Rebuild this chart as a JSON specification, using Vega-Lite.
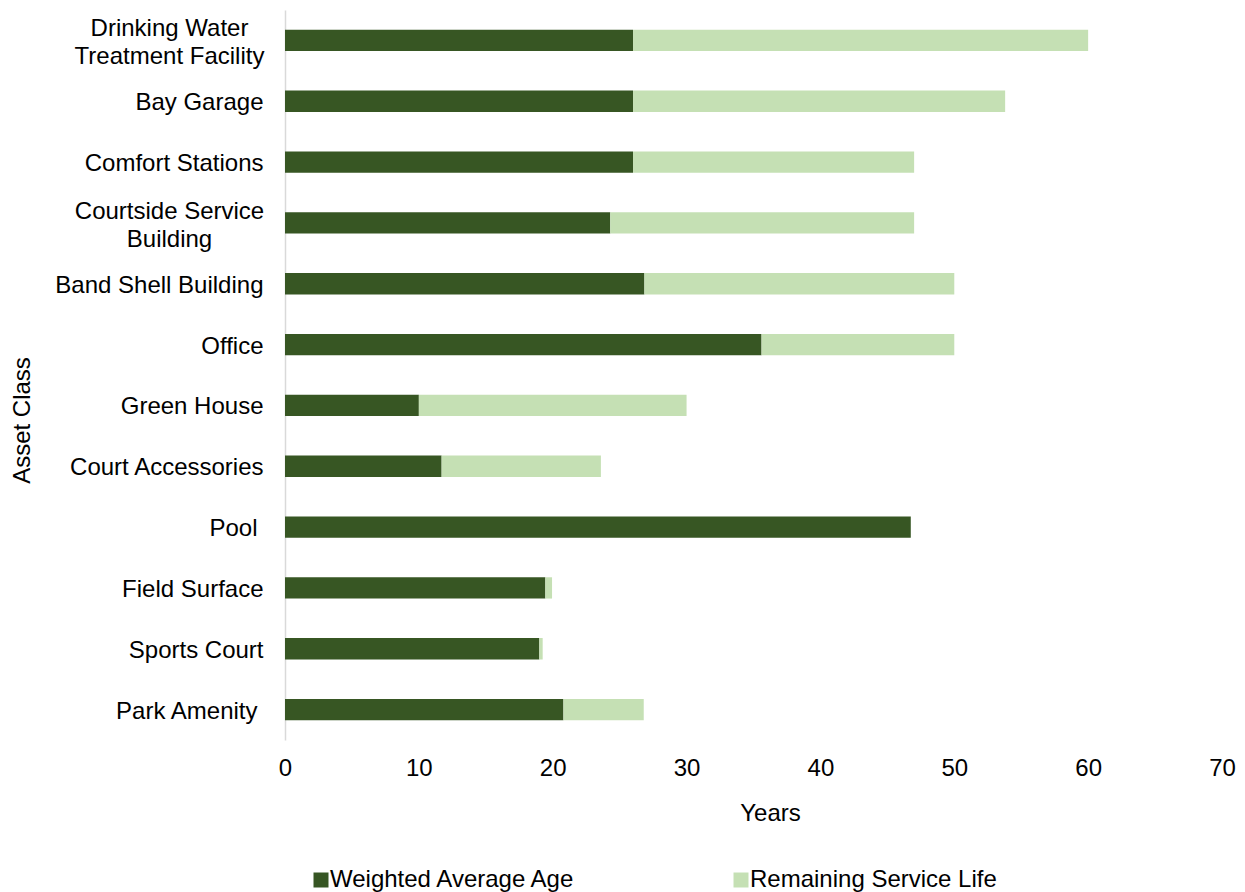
{
  "$schema": "https://vega.github.io/schema/vega-lite/v6.json",
  "width": 937,
  "height": 730,
  "autosize": {"type": "none"},
  "padding": {"left": 285, "top": 10, "right": 23, "bottom": 152},
  "background": "white",
  "config": {
    "font": "Liberation Sans",
    "view": {"stroke": null}
  },
  "data": {
    "values": [
      {"asset": "Drinking Water|Treatment Facility", "series": "Weighted Average Age", "years": 26, "ord": 1},
      {"asset": "Drinking Water|Treatment Facility", "series": "Remaining Service Life", "years": 34, "ord": 2},
      {"asset": "Bay Garage", "series": "Weighted Average Age", "years": 26, "ord": 1},
      {"asset": "Bay Garage", "series": "Remaining Service Life", "years": 27.8, "ord": 2},
      {"asset": "Comfort Stations", "series": "Weighted Average Age", "years": 26, "ord": 1},
      {"asset": "Comfort Stations", "series": "Remaining Service Life", "years": 21, "ord": 2},
      {"asset": "Courtside Service|Building", "series": "Weighted Average Age", "years": 24.3, "ord": 1},
      {"asset": "Courtside Service|Building", "series": "Remaining Service Life", "years": 22.7, "ord": 2},
      {"asset": "Band Shell Building", "series": "Weighted Average Age", "years": 26.85, "ord": 1},
      {"asset": "Band Shell Building", "series": "Remaining Service Life", "years": 23.15, "ord": 2},
      {"asset": "Office", "series": "Weighted Average Age", "years": 35.6, "ord": 1},
      {"asset": "Office", "series": "Remaining Service Life", "years": 14.4, "ord": 2},
      {"asset": "Green House", "series": "Weighted Average Age", "years": 10, "ord": 1},
      {"asset": "Green House", "series": "Remaining Service Life", "years": 20, "ord": 2},
      {"asset": "Court Accessories", "series": "Weighted Average Age", "years": 11.7, "ord": 1},
      {"asset": "Court Accessories", "series": "Remaining Service Life", "years": 11.9, "ord": 2},
      {"asset": "Pool", "series": "Weighted Average Age", "years": 46.75, "ord": 1},
      {"asset": "Pool", "series": "Remaining Service Life", "years": 0, "ord": 2},
      {"asset": "Field Surface", "series": "Weighted Average Age", "years": 19.45, "ord": 1},
      {"asset": "Field Surface", "series": "Remaining Service Life", "years": 0.5, "ord": 2},
      {"asset": "Sports Court", "series": "Weighted Average Age", "years": 19.0, "ord": 1},
      {"asset": "Sports Court", "series": "Remaining Service Life", "years": 0.25, "ord": 2},
      {"asset": "Park Amenity", "series": "Weighted Average Age", "years": 20.8, "ord": 1},
      {"asset": "Park Amenity", "series": "Remaining Service Life", "years": 6, "ord": 2}
    ]
  },
  "mark": {"type": "bar"},
  "encoding": {
    "y": {
      "field": "asset",
      "type": "nominal",
      "sort": ["Drinking Water|Treatment Facility", "Bay Garage", "Comfort Stations", "Courtside Service|Building", "Band Shell Building", "Office", "Green House", "Court Accessories", "Pool", "Field Surface", "Sports Court", "Park Amenity"],
      "scale": {"paddingInner": 0.65, "paddingOuter": 0.325},
      "axis": {
        "title": "Asset Class",
        "titleFont": "Liberation Sans",
        "titleFontSize": 24,
        "titleFontWeight": "normal",
        "titleColor": "#000000",
        "titleAngle": 270,
        "titleX": -263,
        "titleY": 410,
        "titleAlign": "center",
        "titleBaseline": "middle",
        "labelExpr": "split(datum.label, '|')",
        "labelFontSize": 24,
        "labelColor": "#000000",
        "labelLineHeight": 28,
        "labelBaseline": "middle",
        "labelAlign": {"condition": {"test": "indexof(datum.value, '|') >= 0", "value": "center"}, "value": "right"},
        "labelPadding": {"condition": [
          {"test": "indexof(datum.value, '|') >= 0", "value": 116},
          {"test": "datum.value == 'Pool' || datum.value == 'Park Amenity'", "value": 28}
        ], "value": 22},
        "labelOffset": {"condition": {"test": "indexof(datum.value, '|') >= 0", "value": -11}, "value": 2},
        "labelLimit": 400,
        "ticks": false,
        "domain": true,
        "domainColor": "#D9D9D9",
        "domainWidth": 1.5,
        "grid": false
      }
    },
    "x": {
      "field": "years",
      "type": "quantitative",
      "stack": "zero",
      "scale": {"domain": [0, 70], "nice": false},
      "axis": {
        "title": "Years",
        "titleFontSize": 24,
        "titleFontWeight": "normal",
        "titleColor": "#000000",
        "titleX": 485,
        "titleY": 73,
        "titleBaseline": "middle",
        "titleAlign": "center",
        "values": [0, 10, 20, 30, 40, 50, 60, 70],
        "labelFontSize": 24,
        "labelColor": "#000000",
        "labelPadding": 16,
        "labelFlush": false,
        "ticks": false,
        "domain": false,
        "grid": false
      }
    },
    "color": {
      "field": "series",
      "type": "nominal",
      "scale": {
        "domain": ["Weighted Average Age", "Remaining Service Life"],
        "range": ["#375623", "#C5E0B4"]
      },
      "legend": {
        "title": null,
        "orient": "none",
        "legendX": 24,
        "legendY": 858,
        "direction": "horizontal",
        "columns": 2,
        "columnPadding": 153,
        "padding": 0,
        "symbolType": "square",
        "symbolSize": 225,
        "symbolStrokeWidth": 0,
        "symbolOpacity": 1,
        "labelFontSize": 24,
        "labelColor": "#000000",
        "labelOffset": -3,
        "labelLimit": 400
      }
    },
    "order": {"field": "ord", "type": "quantitative"}
  }
}
